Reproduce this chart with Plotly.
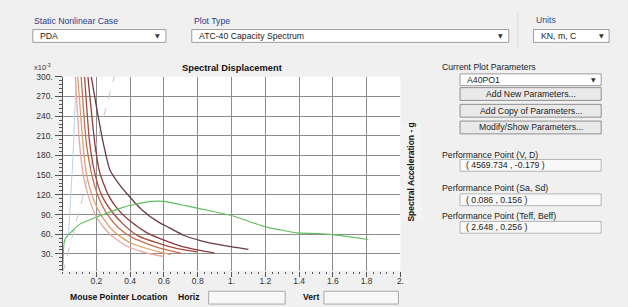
import plotly.graph_objects as go

# ---------------- data ----------------
# capacity spectrum (green), Sd in m, Sa in 1e-3 g
cap_sd = [0.0, 0.004, 0.008, 0.015, 0.03, 0.05, 0.1, 0.18, 0.24, 0.335, 0.435, 0.53, 0.6, 0.7, 0.81, 0.92, 1.02, 1.12, 1.22, 1.3, 1.39, 1.5, 1.61, 1.7, 1.81]
cap_sa = [5, 25, 45, 53, 58, 63, 75, 84, 90, 99, 106, 110, 110, 105, 99, 93, 87, 78, 70, 66, 62, 61, 59, 56, 52]

# demand spectra (family of curves)
dem_a_sd = [0.17, 0.2, 0.24, 0.28, 0.33, 0.38, 0.47, 0.57, 0.63, 0.72, 0.82, 0.95, 1.1]
dem_a_sa = [300, 255, 200, 158, 138, 122, 97, 78, 70, 58, 50, 43, 37]
dem_b_sd = [0.15, 0.19, 0.22, 0.27, 0.33, 0.4, 0.5, 0.57, 0.7, 0.8, 0.9]
dem_b_sa = [300, 200, 154, 120, 97, 80, 62, 54, 42, 36, 31]
dem_c_sd = [0.13, 0.16, 0.19, 0.23, 0.29, 0.36, 0.45, 0.57, 0.68, 0.8]
dem_c_sa = [300, 200, 154, 120, 95, 75, 57, 46, 38, 33]
dem_d_sd = [0.11, 0.14, 0.17, 0.21, 0.26, 0.33, 0.42, 0.57, 0.7]
dem_d_sa = [300, 200, 154, 118, 92, 70, 54, 39, 31]
dem_e_sd = [0.09, 0.12, 0.14, 0.18, 0.23, 0.3, 0.4, 0.57, 0.64]
dem_e_sa = [300, 200, 154, 115, 88, 65, 47, 33, 29]
dem_f_sd = [0.075, 0.1, 0.12, 0.16, 0.21, 0.28, 0.38, 0.5, 0.6]
dem_f_sa = [300, 200, 154, 112, 82, 60, 42, 31, 26]

# faint reference lines
ref_sd = [0.0, 0.306]
ref_sa = [0.0, 301]
blue_sd = [0.035, 0.05, 0.06, 0.07, 0.08]
blue_sa = [60, 120, 170, 230, 300]

x_ticks = [0.2, 0.4, 0.6, 0.8, 1.0, 1.2, 1.4, 1.6, 1.8, 2.0]
x_tick_text = ["0.2", "0.4", "0.6", "0.8", "1.", "1.2", "1.4", "1.6", "1.8", "2."]
y_ticks = [30, 60, 90, 120, 150, 180, 210, 240, 270, 300]
y_tick_text = ["30.", "60.", "90.", "120.", "150.", "180.", "210.", "240.", "270.", "300."]

# ---------------- figure ----------------
W, H = 628, 307
FONT = "Liberation Sans"
UI = 8.7


def px(x):
    return x / W


def py(y):
    return 1 - y / H


fig = go.Figure()

fig.add_trace(go.Scatter(x=ref_sd, y=ref_sa, mode="lines",
                         line=dict(color="#c8c8c8", width=1, dash="dash"), hoverinfo="skip"))
fig.add_trace(go.Scatter(x=blue_sd, y=blue_sa, mode="lines",
                         line=dict(color="#b8d4ee", width=1), hoverinfo="skip"))

demand = [
    (dem_f_sd, dem_f_sa, "#e8a7a0"),
    (dem_e_sd, dem_e_sa, "#e0a070"),
    (dem_d_sd, dem_d_sa, "#c8704e"),
    (dem_c_sd, dem_c_sa, "#a84a3e"),
    (dem_b_sd, dem_b_sa, "#8c3a3a"),
    (dem_a_sd, dem_a_sa, "#6a3a48"),
]
for sd, sa, col in demand:
    fig.add_trace(go.Scatter(x=sd, y=sa, mode="lines",
                             line=dict(color=col, width=1.3, shape="spline", smoothing=0.6),
                             hoverinfo="skip"))

fig.add_trace(go.Scatter(x=cap_sd, y=cap_sa, mode="lines",
                         line=dict(color="#5cbf5c", width=1.1, shape="spline", smoothing=0.5),
                         hoverinfo="skip"))

shapes = []
annotations = []


def text(x, y, s, size=UI, color="#222222", anchor="left", bold=False, angle=0, family=FONT):
    annotations.append(dict(
        xref="paper", yref="paper", x=px(x), y=py(y), text=("<b>%s</b>" % s) if bold else s,
        showarrow=False, xanchor=anchor, yanchor="middle", textangle=angle,
        font=dict(family=family, size=size, color=color)))


def rect(x0, y0, x1, y1, fill, line="#a0a0a0", width=1):
    shapes.append(dict(type="rect", xref="paper", yref="paper",
                       x0=px(x0), y0=py(y0), x1=px(x1), y1=py(y1),
                       fillcolor=fill, line=dict(color=line, width=width), layer="below"))


def dropdown(x0, y0, x1, y1, s):
    rect(x0, y0, x1, y1, "#ffffff", "#9c9c9c")
    text(x0 + 5, (y0 + y1) / 2, s, color="#222222")
    text(x1 - 8, (y0 + y1) / 2, "▼", size=6, color="#333333", anchor="center", family="DejaVu Sans")


def button(x0, y0, x1, y1, s):
    rect(x0, y0, x1, y1, "#e9e9e9", "#8f8f8f")
    text((x0 + x1) / 2, (y0 + y1) / 2, s, color="#222222", anchor="center")


# top controls
text(32, 16, "Static Nonlinear Case", color="#2a3c8a")
dropdown(33, 25, 167, 38, "PDA")
text(193, 16, "Plot Type", color="#2a3c8a")
dropdown(193, 25, 512, 38, "ATC-40 Capacity Spectrum")
shapes.append(dict(type="line", xref="paper", yref="paper", x0=px(521), x1=px(521),
                   y0=py(8), y1=py(45), line=dict(color="#dcdcdc", width=1)))
text(537, 15, "Units", color="#3a4a7a")
dropdown(537, 25, 613, 38, "KN, m, C")

# chart labels
text(233, 64, "Spectral Displacement", size=9.3, color="#111111", anchor="center", bold=True)
text(32, 63, "x10<sup>-3</sup>", size=7.5, color="#333333")
rect(404, 122, 424, 218, "#f3f3f3", "#f3f3f3")
text(414, 170, "Spectral Acceleration - g", size=8.5, color="#111111", anchor="center", bold=True, angle=-90)

# bottom pointer location
text(68, 297, "Mouse Pointer Location", size=8.6, color="#111111", bold=True)
text(177, 297, "Horiz", size=8.6, color="#111111", bold=True)
rect(210, 291, 287, 304, "#f7f7f7", "#a8a8a8")
text(303, 297, "Vert", size=8.6, color="#111111", bold=True)
rect(326, 291, 401, 304, "#f7f7f7", "#a8a8a8")

# right panel
text(443, 63, "Current Plot Parameters")
dropdown(463, 70, 605, 82, "A40PO1")
button(463, 84, 605, 97, "Add New Parameters...")
button(463, 101, 605, 114, "Add Copy of Parameters...")
button(463, 118, 605, 131, "Modify/Show Parameters...")

text(443, 152, "Performance Point (V, D)")
rect(463, 157, 605, 169, "#f9f9f9", "#b4b4b4")
text(467, 163, "( 4569.734 , -0.179 )")
text(443, 186, "Performance Point (Sa, Sd)")
rect(463, 192, 605, 204, "#f9f9f9", "#b4b4b4")
text(467, 198, "( 0.086 , 0.156 )")
text(443, 214, "Performance Point (Teff, Beff)")
rect(463, 220, 605, 232, "#f9f9f9", "#b4b4b4")
text(467, 226, "( 2.648 , 0.256 )")

fig.update_layout(
    width=W, height=H, autosize=False,
    margin=dict(l=0, r=0, t=0, b=0, pad=0),
    paper_bgcolor="#f0f0f0", plot_bgcolor="#ffffff",
    showlegend=False,
    font=dict(family=FONT, size=8, color="#333333"),
    shapes=shapes, annotations=annotations,
    xaxis=dict(domain=[px(63), px(403)], range=[0, 2.0],
               tickvals=x_ticks, ticktext=x_tick_text,
               showgrid=True, gridcolor="#8c8c8c", gridwidth=1,
               showline=False, zeroline=False,
               ticks="outside", ticklen=5, tickcolor="#555555", tickwidth=1,
               ticklabelstandoff=-3,
               minor=dict(dtick=0.04, ticks="outside", ticklen=2, tickcolor="#555555", showgrid=False),
               tickfont=dict(family=FONT, size=8.5, color="#333333")),
    yaxis=dict(domain=[py(270), py(73)], range=[4.5, 300],
               tickvals=y_ticks, ticktext=y_tick_text,
               showgrid=True, gridcolor="#8c8c8c", gridwidth=1,
               showline=True, linecolor="#555555", linewidth=1, zeroline=False,
               ticks="outside", ticklen=7, tickcolor="#555555", tickwidth=1,
               minor=dict(dtick=6, tick0=0, ticks="outside", ticklen=3, tickcolor="#555555", showgrid=False),
               tickfont=dict(family=FONT, size=8.5, color="#333333")),
)

fig.write_html("out.html", config={"displayModeBar": False},
               post_script="document.body.style.margin='0';document.body.style.overflow='hidden';")
